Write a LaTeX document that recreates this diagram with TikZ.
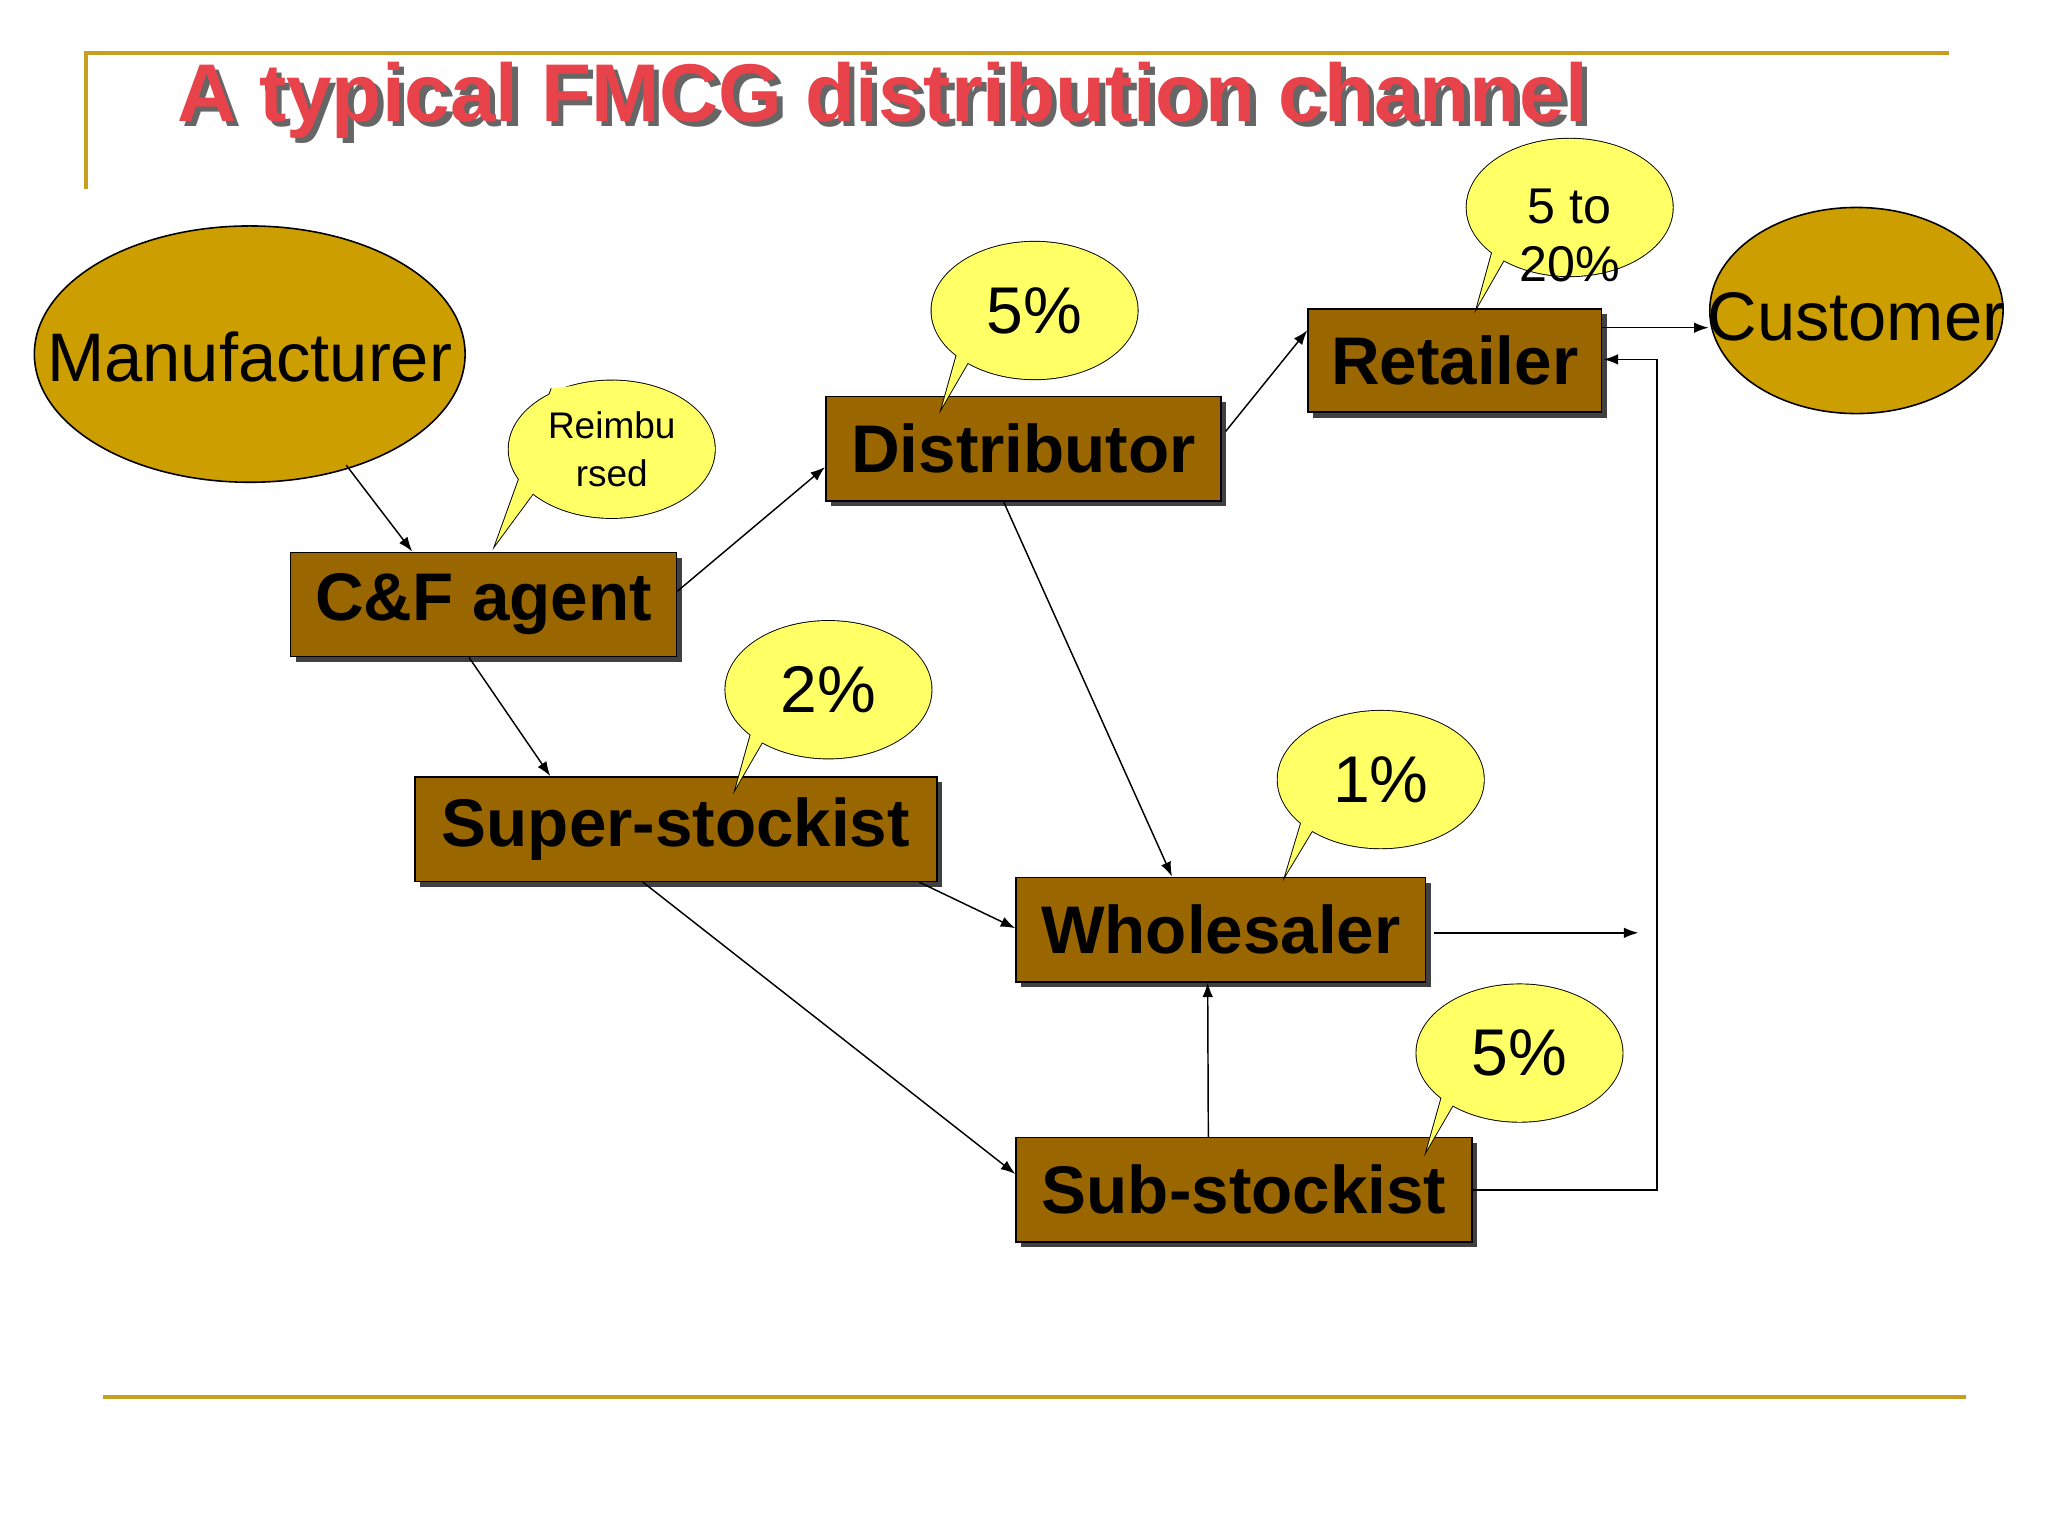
\documentclass[tikz,border=0pt]{standalone}
\usepackage{fontspec}
\setmainfont{Liberation Sans}
\usetikzlibrary{shapes.geometric,shadows,arrows.meta}
\definecolor{gold}{HTML}{C8A020}
\definecolor{ochre}{HTML}{CC9E00}
\definecolor{brown}{HTML}{996600}
\definecolor{callyel}{HTML}{FFFF66}
\definecolor{titred}{HTML}{E8434A}
\begin{document}
\begin{tikzpicture}[x=1pt,y=-1pt,
  box/.style={draw=black,line width=1.2pt,fill=brown,drop shadow={shadow xshift=4pt,shadow yshift=-4pt,fill=black!75,opacity=1},font=\fontsize{51}{55}\selectfont\bfseries,inner sep=0pt},
  ovaltext/.style={inner sep=0pt,font=\fontsize{52}{56}\selectfont},
  arr/.style={-{Latex[length=11pt,width=8pt]},line width=1.1pt},
  ctext/.style={align=center,inner sep=0pt}]
\useasboundingbox (0,0) rectangle (1550,1162);
\fill[white] (0,0) rectangle (1550,1162);
% frame lines
\draw[gold,line width=3pt] (65,143) -- (65,40) -- (1475,40);
\draw[gold,line width=3pt] (78,1057) -- (1488,1057);
% title
\node[anchor=west,text=black!60,font=\fontsize{62}{66}\selectfont\bfseries,inner sep=0pt] (tsh) at (138,80) {A typical FMCG distribution channel};
\node[anchor=west,text=titred,font=\fontsize{62}{66}\selectfont\bfseries,inner sep=0pt] (title) at (134,76) {A typical FMCG distribution channel};
% ovals
\draw[line width=1.2pt,fill=ochre] (189,268) ellipse [x radius=163,y radius=97];
\node[ovaltext] (manu) at (189,270) {Manufacturer};
\draw[line width=1.2pt,fill=ochre] (1405,235) ellipse [x radius=111,y radius=78];
\node[ovaltext] (cust) at (1405,240) {Customer};
\coordinate (manuarr) at (262,352);
% boxes
\node[box,minimum width=222,minimum height=78] (ret) at (1101,273) {Retailer};
\node[box,minimum width=299,minimum height=79] (dist) at (774.5,339.5) {Distributor};
\node[box,minimum width=292,minimum height=79] (cf) at (366,457.5) {C\&F agent};
\node[box,minimum width=395,minimum height=79] (sup) at (511.5,627.5) {Super-stockist};
\node[box,minimum width=310,minimum height=79] (whl) at (924,703.5) {Wholesaler};
\node[box,minimum width=345,minimum height=79] (sub) at (941.5,900.5) {Sub-stockist};
% callouts
\newcommand{\mycallout}[6]{%
  \coordinate (#1c) at (#2);
  \coordinate (#1t) at (#3);
  \draw[line width=1.4pt] ([shift={(#1c)}]242:#4) -- (#1t) -- ([shift={(#1c)}]272:#4);
  \draw[line width=1.4pt] (#1c) ellipse [x radius=78,y radius=52];
  \fill[callyel] (#1c) ellipse [x radius=78,y radius=52];
  \fill[callyel] ([shift={(#1c)}]242:#4) -- (#1t) -- ([shift={(#1c)}]272:#4) -- cycle;
  \node[ctext,font=#5] (#1) at (#1c) {#6};}
\mycallout{cr}{463,340}{375,412}{97 and 52}{\fontsize{28}{36}\selectfont}{Reimbu\\rsed}
\mycallout{cd}{783,235}{713,308}{78 and 52}{\fontsize{50}{54}\selectfont}{5\%}
\mycallout{cs}{627,522}{557,596}{78 and 52}{\fontsize{50}{54}\selectfont}{2\%}
\mycallout{cw}{1045,590}{973,662}{78 and 52}{\fontsize{50}{54}\selectfont}{1\%}
\mycallout{cb}{1150,797}{1080,870}{78 and 52}{\fontsize{50}{54}\selectfont}{5\%}
\mycallout{cre}{1188,157}{1118,232}{78 and 52}{\fontsize{38}{44}\selectfont}{}
\node[ctext,font=\fontsize{38}{44}\selectfont] (cretext) at (1188,178) {5 to\\20\%};
% arrows
\coordinate (wstart) at (1085,706);
\coordinate (wend) at (1240,706);
\draw[arr] (manuarr) -- ([xshift=-54]cf.north);
\draw[arr] ([yshift=10]cf.east) -- ([yshift=-14]dist.west);
\draw[arr] ([xshift=-11]cf.south) -- ([xshift=-95]sup.north);
\draw[arr] ([xshift=3,yshift=13]dist.east) -- ([yshift=23]ret.west);
\draw[arr] ([yshift=25]ret.east) -- ([xshift=1]cust.west |- 0,248);
\draw[arr] ([xshift=-15]dist.south) -- ([xshift=-37]whl.north);
\draw[arr] ([xshift=-14]sup.south east) -- ([yshift=1]whl.west);
\draw[arr] ([xshift=-25]sup.south) -- ([yshift=12]sub.west);
\draw[arr] (wstart) -- (wend);
\draw[arr] ([xshift=-27]sub.north) -- ([xshift=-10]whl.south);
\draw[arr] (sub.east) -- (1254,900.5) -- (1254,272) -- ([xshift=1,yshift=1]ret.east);
\end{tikzpicture}
\end{document}
